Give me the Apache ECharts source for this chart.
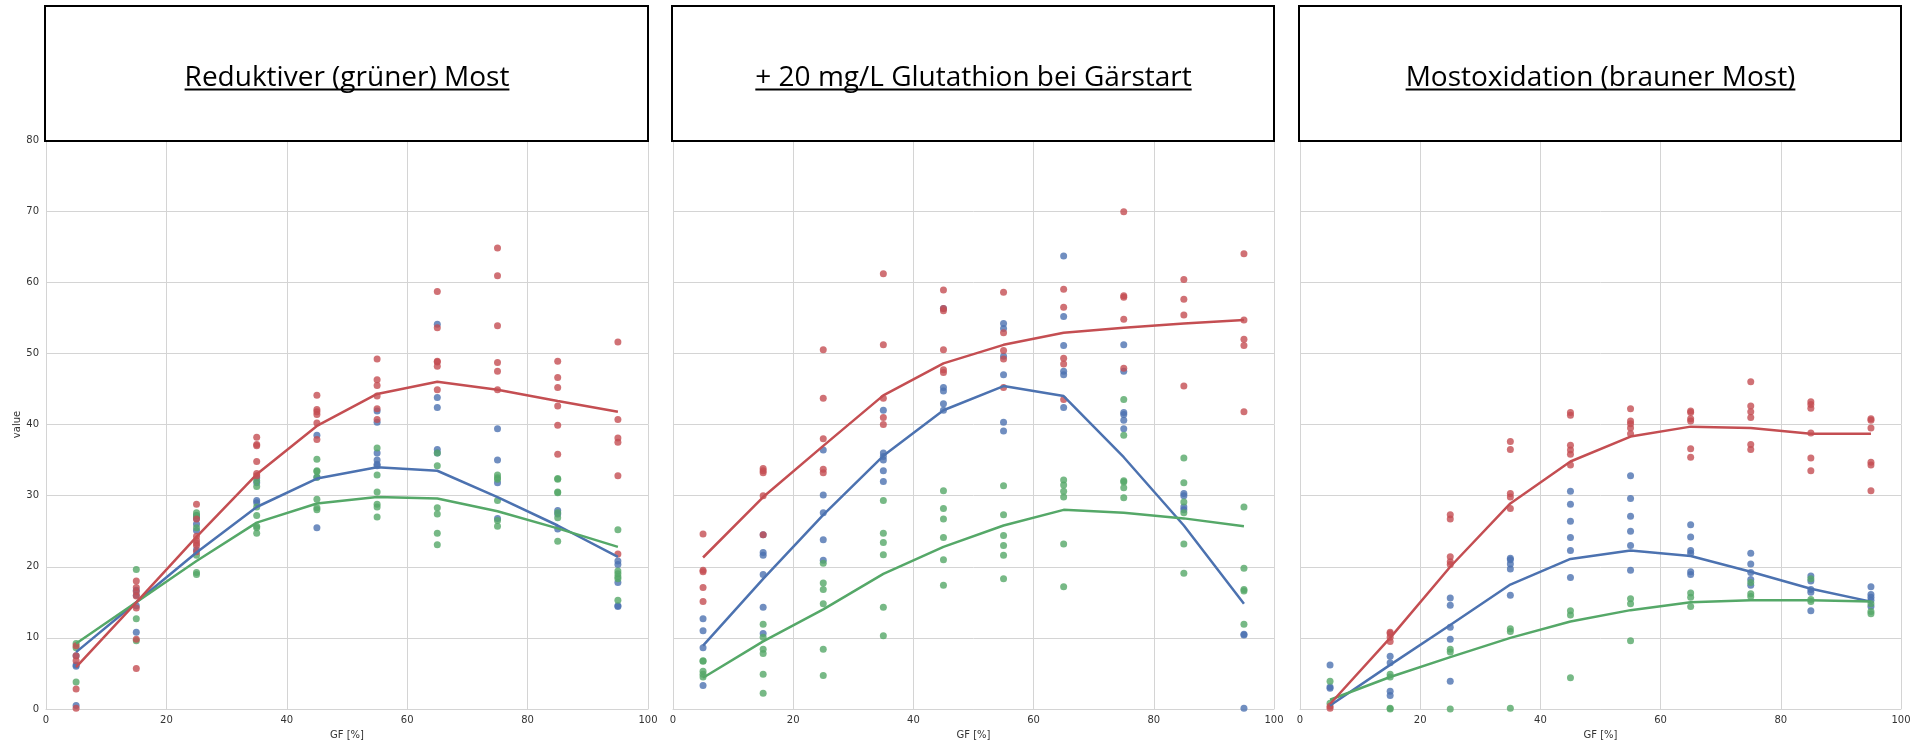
<!DOCTYPE html>
<html>
<head>
<meta charset="utf-8">
<script src="https://cdn.jsdelivr.net/npm/echarts@6/dist/echarts.min.js"></script>
<style>
html,body{margin:0;padding:0;background:#fff;}
#chart{width:1914px;height:742px;}
</style>
</head>
<body>
<div id="chart"></div>
<script>
// ---------- DATA ----------
const xs = [5, 15, 25, 35, 45, 55, 65, 75, 85, 95];
const panelTitles = ["Reduktiver (grüner) Most", "+ 20 mg/L Glutathion bei Gärstart", "Mostoxidation (brauner Most)"];
const xTickValues = [0, 20, 40, 60, 80, 100];
const yTickValues = [0, 10, 20, 30, 40, 50, 60, 70, 80];
const xAxisName = "GF [%]";
const yAxisName = "value";

// Panel 1: Reduktiver (grüner) Most
const p1RedLine   = [5.9, 15.0, 24.2, 33.0, 39.8, 44.3, 46.0, 44.9, 43.3, 41.8];
const p1BlueLine  = [8.0, 15.0, 22.0, 28.4, 32.4, 34.0, 33.5, 29.8, 25.8, 21.4];
const p1GreenLine = [9.2, 15.0, 20.8, 26.2, 28.9, 29.8, 29.6, 27.8, 25.4, 22.8];
const p1RedPts = [
  [8.9, 7.5, 6.8, 2.8, 0.1], [18.0, 17.1, 16.5, 15.9, 14.2, 9.8, 5.7],
  [28.8, 26.7, 24.3, 23.7, 23.3, 23.0, 22.1], [38.2, 37.2, 37.0, 34.8, 33.1, 32.8],
  [44.1, 42.1, 41.8, 41.4, 40.2, 37.9], [49.2, 46.3, 45.5, 44.0, 42.2, 40.7],
  [58.7, 53.6, 48.9, 48.8, 48.2, 44.9], [64.8, 60.9, 53.9, 48.7, 47.5, 44.9],
  [48.9, 46.6, 45.2, 42.6, 39.9, 35.8], [51.6, 40.7, 38.1, 37.5, 32.8, 21.8]
];
const p1BluePts = [
  [7.5, 6.2, 6.0, 0.5], [16.7, 16.0, 14.5, 10.8],
  [27.2, 26.8, 26.0, 25.1, 22.4], [32.5, 31.8, 29.3, 29.0],
  [38.5, 32.6, 25.5], [41.9, 40.3, 36.0, 35.0, 34.4, 34.2],
  [54.1, 43.8, 42.4, 36.5, 36.0], [39.4, 35.0, 31.8, 26.8],
  [27.9, 27.4, 25.3], [20.8, 20.3, 17.8, 14.5, 14.4]
];
const p1GreenPts = [
  [9.2, 8.6, 3.8], [19.6, 12.7, 9.6],
  [27.6, 27.2, 25.5, 21.6, 19.2, 18.9], [32.1, 31.3, 28.4, 27.2, 25.7, 25.5, 24.7],
  [35.1, 33.5, 33.4, 32.6, 29.5, 28.3, 28.0], [36.7, 32.9, 30.5, 28.8, 28.4, 27.0],
  [36.0, 34.2, 28.3, 27.4, 24.7, 23.1], [32.9, 32.5, 32.3, 29.3, 26.5, 25.7],
  [32.4, 32.3, 30.5, 30.4, 27.6, 26.9, 23.6], [25.2, 19.4, 19.0, 18.6, 18.3, 15.3]
];

// Panel 2: + 20 mg/L Glutathion bei Gärstart
const p2RedLine   = [21.3, 29.8, 37.0, 44.1, 48.6, 51.2, 52.9, 53.6, 54.2, 54.7];
const p2BlueLine  = [8.9, 18.3, 27.3, 35.6, 42.0, 45.4, 44.0, 35.4, 25.8, 14.8];
const p2GreenLine = [4.4, 9.5, 14.0, 19.0, 22.8, 25.8, 28.0, 27.6, 26.8, 25.7];
const p2RedPts = [
  [24.6, 19.5, 19.3, 17.1, 15.1], [33.8, 33.5, 33.2, 30.0, 24.5],
  [50.5, 43.7, 38.0, 33.7, 33.2], [61.2, 51.2, 43.7, 41.0, 40.0],
  [58.9, 56.3, 56.0, 50.5, 47.7, 47.3], [58.6, 52.9, 50.4, 49.2, 45.2],
  [59.0, 56.5, 49.3, 48.5, 43.5], [69.9, 58.1, 57.9, 54.8, 47.9],
  [60.4, 57.6, 55.4, 45.4], [64.0, 54.7, 52.0, 51.1, 41.8]
];
const p2BluePts = [
  [12.7, 11.0, 8.6, 3.3], [24.5, 22.0, 21.6, 18.9, 14.3, 10.6],
  [36.4, 30.1, 27.6, 23.8, 20.9], [42.0, 36.0, 35.5, 35.0, 33.5, 32.0],
  [56.3, 45.2, 44.7, 42.9, 42.0], [54.2, 53.5, 49.6, 47.0, 40.3, 39.1],
  [63.7, 55.2, 51.1, 47.5, 47.0, 42.4], [51.2, 47.5, 41.7, 41.4, 40.6, 39.4],
  [30.3, 30.0, 28.4, 28.0], [10.5, 10.4, 0.1]
];
const p2GreenPts = [
  [6.8, 6.7, 5.3, 4.9, 4.5], [11.9, 10.1, 8.4, 7.8, 4.9, 2.2],
  [20.5, 17.7, 16.8, 14.8, 8.4, 4.7], [29.3, 24.7, 23.4, 21.7, 14.3, 10.3],
  [30.7, 28.2, 26.7, 24.1, 21.0, 17.4], [31.4, 27.3, 24.4, 23.0, 21.6, 18.3],
  [32.2, 31.5, 30.6, 29.8, 23.2, 17.2], [43.5, 38.5, 32.1, 31.9, 31.1, 29.7],
  [35.3, 31.8, 29.1, 27.6, 23.2, 19.1], [28.4, 19.8, 16.8, 16.6, 11.9]
];

// Panel 3: Mostoxidation (brauner Most)
const p3RedLine   = [0.7, 10.0, 20.0, 28.9, 34.8, 38.3, 39.7, 39.5, 38.7, 38.7];
const p3BlueLine  = [0.5, 6.2, 11.8, 17.5, 21.1, 22.3, 21.5, 19.3, 16.9, 15.1];
const p3GreenLine = [1.3, 4.5, 7.3, 10.0, 12.3, 13.9, 15.0, 15.3, 15.3, 15.1];
const p3RedPts = [
  [0.4, 0.1], [10.8, 10.6, 10.1, 9.5],
  [27.3, 26.7, 21.4, 20.7, 20.3], [37.6, 36.5, 30.3, 29.8, 28.2],
  [41.7, 41.3, 37.1, 36.4, 35.8, 34.3], [42.2, 40.5, 40.1, 39.5, 38.7],
  [41.9, 41.7, 40.8, 40.5, 36.6, 35.4], [46.0, 42.6, 41.8, 41.0, 37.2, 36.5],
  [43.2, 42.8, 42.3, 38.8, 35.3, 33.5], [40.8, 40.6, 39.5, 34.7, 34.3, 30.7]
];
const p3BluePts = [
  [6.2, 3.1, 2.9], [7.4, 6.5, 2.5, 1.9],
  [15.6, 14.6, 11.5, 9.8, 3.9], [21.2, 21.0, 20.4, 19.7, 16.0],
  [30.6, 28.8, 26.4, 24.1, 22.3, 18.5], [32.8, 29.6, 27.1, 25.0, 23.0, 19.5],
  [25.9, 24.2, 22.3, 21.9, 19.3, 18.9], [21.9, 20.4, 19.2, 18.2, 17.4],
  [18.7, 18.0, 16.8, 16.4, 13.8], [17.2, 16.1, 15.7, 15.3, 14.4]
];
const p3GreenPts = [
  [3.9, 0.8], [4.9, 4.5, 0.1, 0.0],
  [8.4, 8.0, 0.0], [11.3, 10.9, 0.1],
  [13.8, 13.2, 4.4], [15.5, 14.8, 9.6],
  [16.3, 15.7, 14.4], [17.8, 16.2, 15.8],
  [18.3, 15.4, 15.1], [14.8, 13.7, 13.4]
];

// ---------- STYLE / LAYOUT ----------
const RED = '#C44E52', BLUE = '#4C72B0', GREEN = '#55A868';
const GRID_COLOR = '#d4d4d4';
const TICK_COLOR = '#333333';
const gridsPos = [
  {left: 46, width: 602},
  {left: 673, width: 601},
  {left: 1300, width: 601}
];
const GRID_TOP = 140, GRID_BOTTOM = 33;

const panels = [
  {red: p1RedPts, blue: p1BluePts, green: p1GreenPts, redL: p1RedLine, blueL: p1BlueLine, greenL: p1GreenLine},
  {red: p2RedPts, blue: p2BluePts, green: p2GreenPts, redL: p2RedLine, blueL: p2BlueLine, greenL: p2GreenLine},
  {red: p3RedPts, blue: p3BluePts, green: p3GreenPts, redL: p3RedLine, blueL: p3BlueLine, greenL: p3GreenLine}
];

function pts(groups) {
  const out = [];
  groups.forEach((g, i) => g.forEach(v => out.push([xs[i], v])));
  return out;
}
function line(vals) { return vals.map((v, i) => [xs[i], v]); }

const grid = [], xAxis = [], yAxis = [], series = [];
gridsPos.forEach((g, k) => {
  grid.push({left: g.left, width: g.width, top: GRID_TOP, bottom: GRID_BOTTOM,
    containLabel: false, outerBoundsMode: 'none'});
  xAxis.push({
    type: 'value', gridIndex: k, min: 0, max: 100, interval: 20,
    name: xAxisName, nameLocation: 'middle', nameGap: 21,
    nameTextStyle: {color: TICK_COLOR, fontFamily: 'DejaVu Sans', fontSize: 10},
    axisLine: {show: true, lineStyle: {color: GRID_COLOR, width: 1}},
    axisTick: {show: false},
    axisLabel: {color: TICK_COLOR, fontFamily: 'DejaVu Sans', fontSize: 10, margin: 6,
      formatter: v => xTickValues.includes(v) ? String(v) : ''},
    splitLine: {show: true, lineStyle: {color: GRID_COLOR, width: 1}}
  });
  yAxis.push({
    type: 'value', gridIndex: k, min: 0, max: 80, interval: 10,
    name: k === 0 ? yAxisName : '', nameLocation: 'middle', nameGap: 24, nameRotate: 90,
    nameTextStyle: {color: TICK_COLOR, fontFamily: 'DejaVu Sans', fontSize: 10},
    axisLine: {show: true, lineStyle: {color: GRID_COLOR, width: 1}},
    axisTick: {show: false},
    axisLabel: {show: k === 0, color: TICK_COLOR, fontFamily: 'DejaVu Sans', fontSize: 10, margin: 7,
      formatter: v => yTickValues.includes(v) ? String(v) : ''},
    splitLine: {show: true, lineStyle: {color: GRID_COLOR, width: 1}}
  });
  const p = panels[k];
  [[p.blue, BLUE], [p.green, GREEN], [p.red, RED]].forEach(([d, c]) => {
    series.push({
      type: 'scatter', xAxisIndex: k, yAxisIndex: k, data: pts(d),
      symbolSize: 7, itemStyle: {color: c, opacity: 0.8}, z: 2, silent: true
    });
  });
  [[p.blueL, BLUE], [p.greenL, GREEN], [p.redL, RED]].forEach(([d, c]) => {
    series.push({
      type: 'line', xAxisIndex: k, yAxisIndex: k, data: line(d),
      showSymbol: false, lineStyle: {color: c, width: 2.5}, itemStyle: {color: c}, z: 3, silent: true
    });
  });
});

// Title boxes with underlined text
const TITLE_FONT = '28px "Open Sans"';
const mctx = document.createElement('canvas').getContext('2d');
mctx.font = TITLE_FONT;
const graphic = [];
gridsPos.forEach((g, k) => {
  const bx = g.left - 1, bw = g.width + 1;
  graphic.push({
    type: 'rect', z: 100, shape: {x: bx, y: 6, width: bw, height: 135},
    style: {fill: '#ffffff', stroke: '#000000', lineWidth: 2}
  });
  const cx = g.left + g.width / 2;
  const tw = mctx.measureText(panelTitles[k]).width;
  graphic.push({
    type: 'text', z: 101, x: cx, y: 78,
    style: {text: panelTitles[k], font: TITLE_FONT, fill: '#000000', align: 'center', verticalAlign: 'middle'}
  });
  graphic.push({
    type: 'line', z: 101, shape: {x1: cx - tw / 2, y1: 89.5, x2: cx + tw / 2, y2: 89.5},
    style: {stroke: '#000000', lineWidth: 2}
  });
});

const chart = echarts.init(document.getElementById('chart'), null, {renderer: 'canvas'});
chart.setOption({
  animation: false,
  backgroundColor: '#ffffff',
  grid, xAxis, yAxis, series, graphic
});
</script>
</body>
</html>
